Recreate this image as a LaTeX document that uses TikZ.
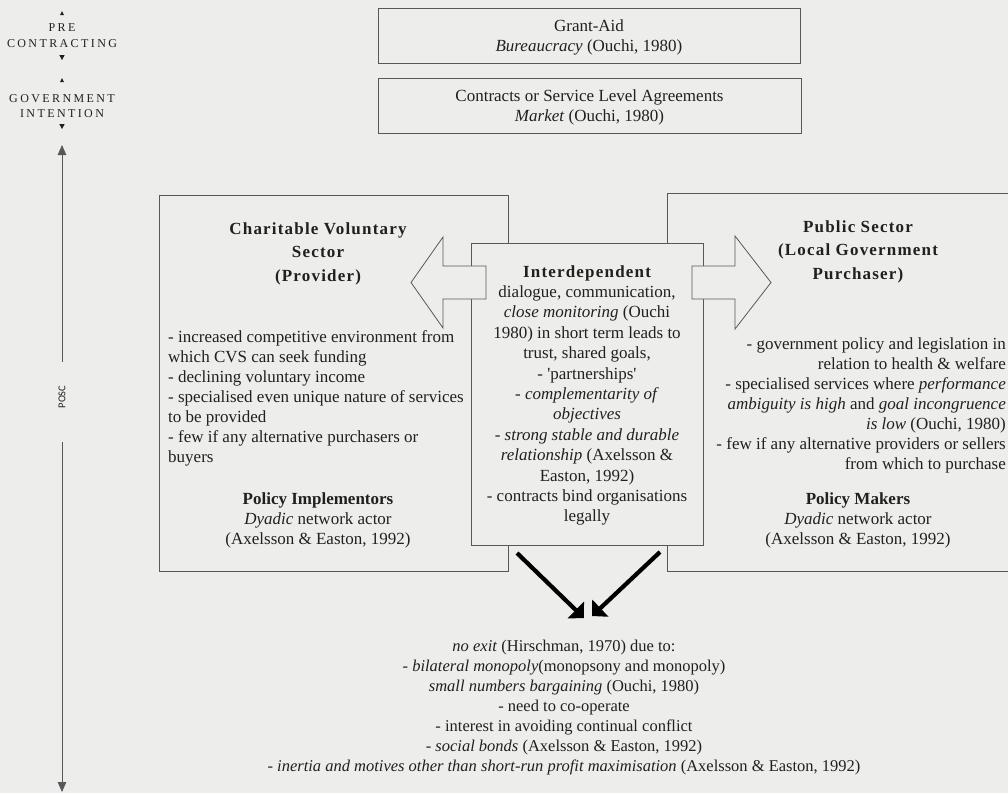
\documentclass[tikz,border=0pt]{standalone}
\usepackage{fontspec}
\setmainfont{Liberation Serif}
\newfontfamily\labelsans{Carlito}
\usetikzlibrary{arrows.meta}
\definecolor{paper}{RGB}{237,238,235}
\definecolor{ink}{RGB}{32,32,32}
\definecolor{rulecol}{RGB}{88,88,88}
% letter-spaced bold headings
\newcommand\hdg[1]{{\bfseries\addfontfeatures{LetterSpace=7}#1}}
\newcommand\stagefont{\fontsize{12}{15.5}\selectfont\addfontfeatures{LetterSpace=20}}
\begin{document}
\begin{tikzpicture}[x=1pt,y=-1pt,
  every node/.style={text=ink},
  frame/.style={draw=rulecol,line width=0.8pt,fill=paper,inner sep=0pt},
  bodytext/.style={inner sep=0pt,font=\fontsize{17}{20}\selectfont},
  headtext/.style={inner sep=0pt,align=center,font=\fontsize{17}{23.5}\selectfont},
  hollow/.style={draw=rulecol,line width=0.8pt,fill=paper,line join=miter},
  heavy/.style={draw=black,line width=4.2pt,-{Triangle[length=11.5pt,width=23pt]}},
  axis/.style={draw=rulecol,line width=0.9pt,-{Triangle[length=10pt,width=8.5pt]}},
  marker/.style={fill=ink,draw=none}]
\useasboundingbox (0,0) rectangle (1008,793);
\fill[paper] (0,0) rectangle (1008,793);
\clip (0,0) rectangle (1008,793);

% ---- stage labels on the left
\node[inner sep=0pt,align=center,font=\stagefont] (pre) at (62,35.5) {PRE\\CONTRACTING};
\node[inner sep=0pt,align=center,font=\stagefont] (gov) at (62,106) {GOVERNMENT\\INTENTION};
\fill[marker] (60,15) -- (64,15) -- (62,11) -- cycle;
\fill[marker] (59.3,55) -- (64.7,55) -- (62,60) -- cycle;
\fill[marker] (60,82) -- (64,82) -- (62,78) -- cycle;
\fill[marker] (59.3,124) -- (64.7,124) -- (62,129) -- cycle;

% ---- time axis
\node[inner sep=0pt,rotate=90,font=\labelsans\fontsize{10.5}{12}\selectfont] (posc) at (62,397) {POSC};
\coordinate (axtopgap) at (62,362);
\coordinate (axtop) at (62,145);
\coordinate (axbotgap) at (62,442);
\coordinate (axbot) at (62,792);
\draw[axis] (axtopgap) -- (axtop);
\draw[axis] (axbotgap) -- (axbot);

% ---- governance forms
\node[frame,anchor=north west,minimum width=422,minimum height=55] (grant) at (378,8) {};
\node[headtext,font=\fontsize{17}{20}\selectfont] (granttxt) at (589,37) {Grant-Aid\\\textit{Bureaucracy} (Ouchi, 1980)};
\node[frame,anchor=north west,minimum width=423,minimum height=55] (sla) at (378,78) {};
\node[headtext,font=\fontsize{17}{20}\selectfont] (slatxt) at (589.5,107) {Contracts or Service Level Agreements\\\textit{Market} (Ouchi, 1980)};

% ---- the two parties
\node[frame,anchor=north west,minimum width=349,minimum height=376] (cvs) at (159,195) {};
\node[frame,anchor=north west,minimum width=360,minimum height=378] (pub) at (667,193) {};

\node[headtext] (cvshead) at (318,253.5) {\hdg{Charitable Voluntary}\\\hdg{Sector}\\\hdg{(Provider)}};
\node[bodytext,align=left,anchor=west] (cvsbody) at (168,398.5) {%
- increased competitive environment from\\
which CVS can seek funding\\
- declining voluntary income\\
- specialised even unique nature of services\\
to be provided\\
- few if any alternative purchasers or\\
buyers};
\node[bodytext,align=center] (cvsrole) at (318,520.5) {\textbf{Policy Implementors}\\\textit{Dyadic} network actor\\(Axelsson \& Easton, 1992)};

\node[headtext] (pubhead) at (858,251.5) {\hdg{Public Sector}\\\hdg{(Local Government}\\\hdg{Purchaser)}};
\node[bodytext,align=right,anchor=east] (pubbody) at (1006,405) {%
- government policy and legislation in\\
relation to health \& welfare\\
- specialised services where \textit{performance}\\
\textit{ambiguity is high} and \textit{goal incongruence}\\
\textit{is low} (Ouchi, 1980)\\
- few if any alternative providers or sellers\\
from which to purchase};
\node[bodytext,align=center] (pubrole) at (858,520.5) {\textbf{Policy Makers}\\\textit{Dyadic} network actor\\(Axelsson \& Easton, 1992)};

% ---- the shared relationship
\node[frame,anchor=north west,minimum width=232,minimum height=302] (mid) at (471,243) {};
\node[bodytext,align=center,font=\fontsize{17}{20.4}\selectfont] (midtxt) at (587,395.5) {%
\hdg{Interdependent}\\
dialogue, communication,\\
\textit{close monitoring} (Ouchi\\
1980) in short term leads to\\
trust, shared goals,\\
- \textquotesingle partnerships\textquotesingle\\
- \textit{complementarity of}\\
\textit{objectives}\\
- \textit{strong stable and durable}\\
\textit{relationship} (Axelsson \&\\
Easton, 1992)\\
- contracts bind organisations\\
legally};

% ---- hollow block arrows pointing at each party
\filldraw[hollow] (411,282.5) -- (443,237) -- (443,266) -- (486,266) -- (486,299)
  -- (443,299) -- (443,328) -- cycle;
\filldraw[hollow] (692,266) -- (735,266) -- (735,236) -- (771,282.5) -- (735,329)
  -- (735,299) -- (692,299) -- cycle;

% ---- consequences
\coordinate (fromL) at (517,553);
\coordinate (toL) at (584,618);
\coordinate (fromR) at (660,552);
\coordinate (toR) at (592,616);
\draw[heavy] (fromL) -- (toL);
\draw[heavy] (fromR) -- (toR);

\node[bodytext,align=center,font=\fontsize{16.5}{20}\selectfont] (exit) at (564,708) {%
\textit{no exit} (Hirschman, 1970) due to:\\
- \textit{bilateral monopoly}(monopsony and monopoly)\\
\textit{small numbers bargaining} (Ouchi, 1980)\\
- need to co-operate\\
- interest in avoiding continual conflict\\
- \textit{social bonds} (Axelsson \& Easton, 1992)\\
- \textit{inertia and motives other than short-run profit maximisation} (Axelsson \& Easton, 1992)};
\end{tikzpicture}
\end{document}
